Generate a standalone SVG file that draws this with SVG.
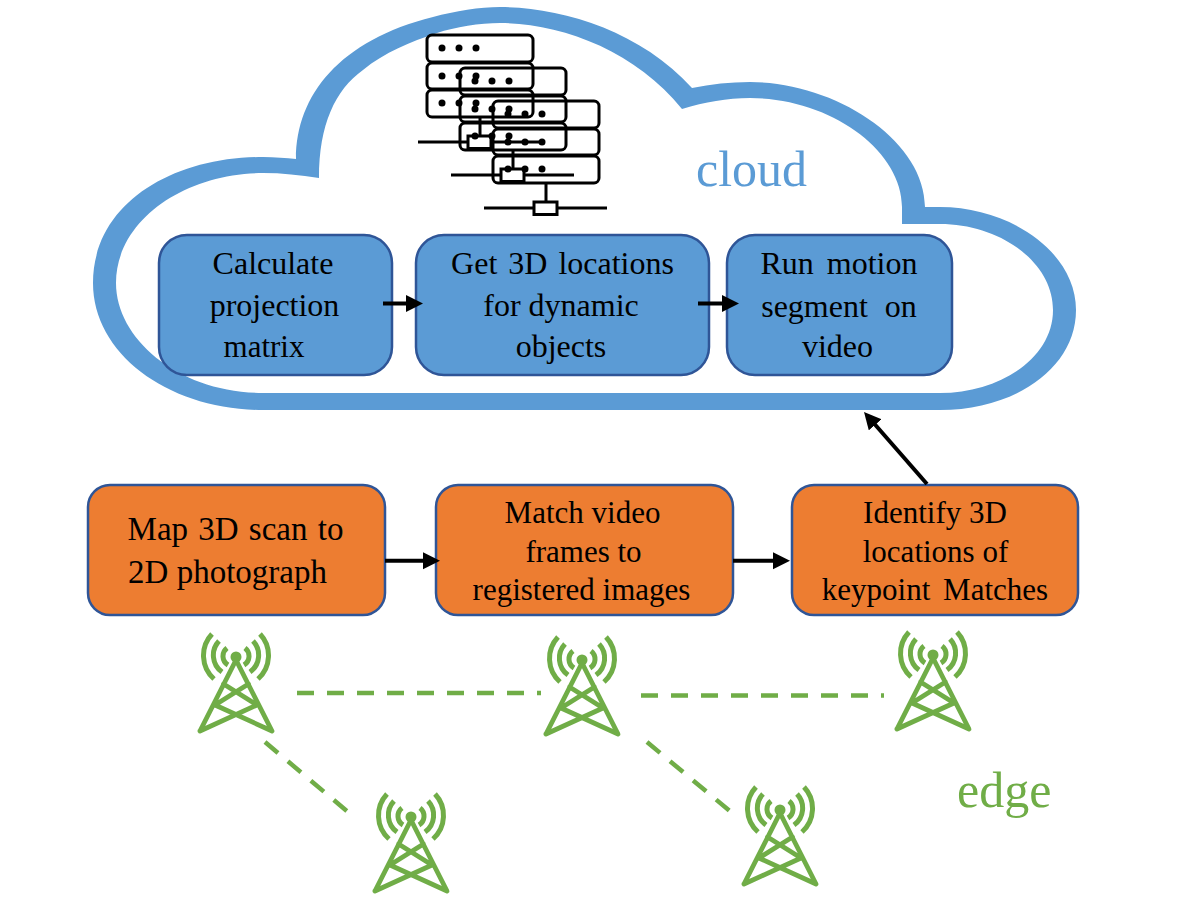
<svg xmlns="http://www.w3.org/2000/svg" width="1191" height="921" viewBox="0 0 1191 921">
<style>
.t{font-family:"Liberation Serif","Times New Roman",serif;font-size:32px;fill:#000;text-anchor:middle}
.s{font-size:31px}
.l{font-size:33px}
.big{font-family:"Liberation Serif","Times New Roman",serif;font-size:50px}
.blue{fill:#5B9BD5;stroke:#2F5597;stroke-width:2.5}
.orange{fill:#ED7D31;stroke:#2F5597;stroke-width:2.5}
.srv{fill:none;stroke:#000;stroke-width:3}
.tw{fill:none;stroke:#70AD47;stroke-width:4.800;stroke-linecap:round;stroke-linejoin:round}
.arc{fill:none;stroke:#70AD47;stroke-width:5}
.dash{fill:none;stroke:#70AD47;stroke-width:4.500;stroke-dasharray:17 13}
.arw{fill:none;stroke:#000;stroke-width:4;marker-end:url(#ah)}
</style>
<defs>
<marker id="ah" markerUnits="userSpaceOnUse" markerWidth="18" markerHeight="18" refX="7" refY="8.5" orient="auto"><path d="M0 0L17 8.5L0 17z" fill="#000"/></marker>
<g id="server">
<rect class="srv" x="427" y="35" width="106" height="27" rx="5"/>
<rect class="srv" x="427" y="63" width="106" height="26" rx="5"/>
<rect class="srv" x="427" y="90" width="106" height="27" rx="5"/>
<g fill="#000"><circle cx="442" cy="48" r="3.500"/><circle cx="459" cy="48" r="3.500"/><circle cx="476" cy="48" r="3.500"/><circle cx="442" cy="76" r="3.500"/><circle cx="459" cy="76" r="3.500"/><circle cx="476" cy="76" r="3.500"/><circle cx="442" cy="103" r="3.500"/><circle cx="459" cy="103" r="3.500"/><circle cx="476" cy="103" r="3.500"/></g>
<path class="srv" d="M480 117V136M418 142H468M491 142H541"/>
<rect class="srv" x="468" y="136" width="23" height="12.500"/>
</g>
<g id="tower">
<circle cx="0" cy="0" r="5.500" fill="#70AD47"/>
<path class="tw" d="M-36 74L0 3L36 74L-21 48L12.500 27M-12.500 27L21 48L-36 74"/>
<path class="arc" d="M-24 -23A31.500 31.500 0 0 0 -22 22M-17 -16A20.700 20.700 0 0 0 -14 15M-9 -9A10.300 10.300 0 0 0 -8 8M24 -23A31.500 31.500 0 0 1 22 22M17 -16A20.700 20.700 0 0 1 14 15M9 -9A10.300 10.300 0 0 1 8 8"/>
</g>
</defs>
<rect width="1191" height="921" fill="#fff"/>
<g id="cloud">
<path fill="#5B9BD5" fill-rule="evenodd" d="M93 283C93 205 170 157 263 157C275 157 286 158 296 159C296 95 340 40 433 17C455 11 480 7 500 7C560 7 640 30 692 88C711 84 730 82 750 82C835 82 925 140 925 207L940 207C1010 207 1076 252 1076 310C1076 368 1015 410 940 410L263 410C170 410 93 355 93 283ZM116 283C116 340 180 393 263 393L940 393C1000 393 1053 358 1053 310C1053 262 1000 224 940 224L902 224L902 207C902 150 830 98 750 98C727 98 705 102 682 109C635 50 560 23 500 23C480 23 455 27 437 33C410 42 385 52 363 70C335 90 319 125 319 178C300 175 282 173 263 173C185 173 116 220 116 283Z"/>
<text class="big" x="696" y="186" fill="#5B9BD5">cloud</text>
</g>
<g id="servers">
<use href="#server"/>
<use href="#server" x="33" y="33"/>
<use href="#server" x="66" y="66"/>
</g>
<g id="node-projection"><rect class="blue" x="159" y="235" width="233" height="140" rx="28"/>
<text class="t" x="273" y="274">Calculate</text><text class="t" x="274.500" y="316">projection</text><text class="t s" x="264" y="357">matrix</text></g>
<g id="node-locations"><rect class="blue" x="416" y="235" width="293" height="140" rx="28"/>
<text class="t" x="562.500" y="274" word-spacing="3">Get 3D locations</text><text class="t" x="561" y="316">for dynamic</text><text class="t" x="561" y="357">objects</text></g>
<g id="node-motion"><rect class="blue" x="727" y="235" width="225" height="140" rx="28"/>
<text class="t" x="839" y="274" word-spacing="5">Run motion</text><text class="t" x="839" y="317" word-spacing="9">segment on</text><text class="t" x="837.500" y="357">video</text></g>
<g id="node-map"><rect class="orange" x="88" y="485" width="297" height="130" rx="22"/>
<text class="t l" x="235.500" y="540" word-spacing="2">Map 3D scan to</text><text class="t l" x="227.500" y="583">2D photograph</text></g>
<g id="node-match"><rect class="orange" x="436" y="485" width="297" height="130" rx="22"/>
<text class="t s" x="582.500" y="523">Match video</text><text class="t s" x="583.500" y="562">frames to</text><text class="t s" x="581.500" y="600">registered images</text></g>
<g id="node-identify"><rect class="orange" x="792" y="485" width="286" height="130" rx="22"/>
<text class="t s" x="935" y="523">Identify 3D</text><text class="t s" x="935.500" y="562">locations of</text><text class="t s" x="935" y="600" word-spacing="5">keypoint Matches</text></g>
<g id="connectors">
<path class="arw" d="M383 303.500H413"/>
<path class="arw" d="M698 303.500H729"/>
<path class="arw" d="M385 560.700H430"/>
<path class="arw" d="M733 560.700H780"/>
<path class="arw" d="M927 484L870.600 419.500"/>
<path class="dash" d="M297 693H541"/>
<path class="dash" d="M641 695.500H884"/>
<path class="dash" d="M265 742L348 812"/>
<path class="dash" d="M647 742L731 812"/>
</g>
<g id="tower-1"><use href="#tower" x="236" y="657"/></g>
<g id="tower-2"><use href="#tower" x="411" y="817"/></g>
<g id="tower-3"><use href="#tower" x="582" y="660"/></g>
<g id="tower-4"><use href="#tower" x="780" y="810"/></g>
<g id="tower-5"><use href="#tower" x="933" y="655"/></g>
<text class="big" x="957" y="807" fill="#70AD47">edge</text>
</svg>
